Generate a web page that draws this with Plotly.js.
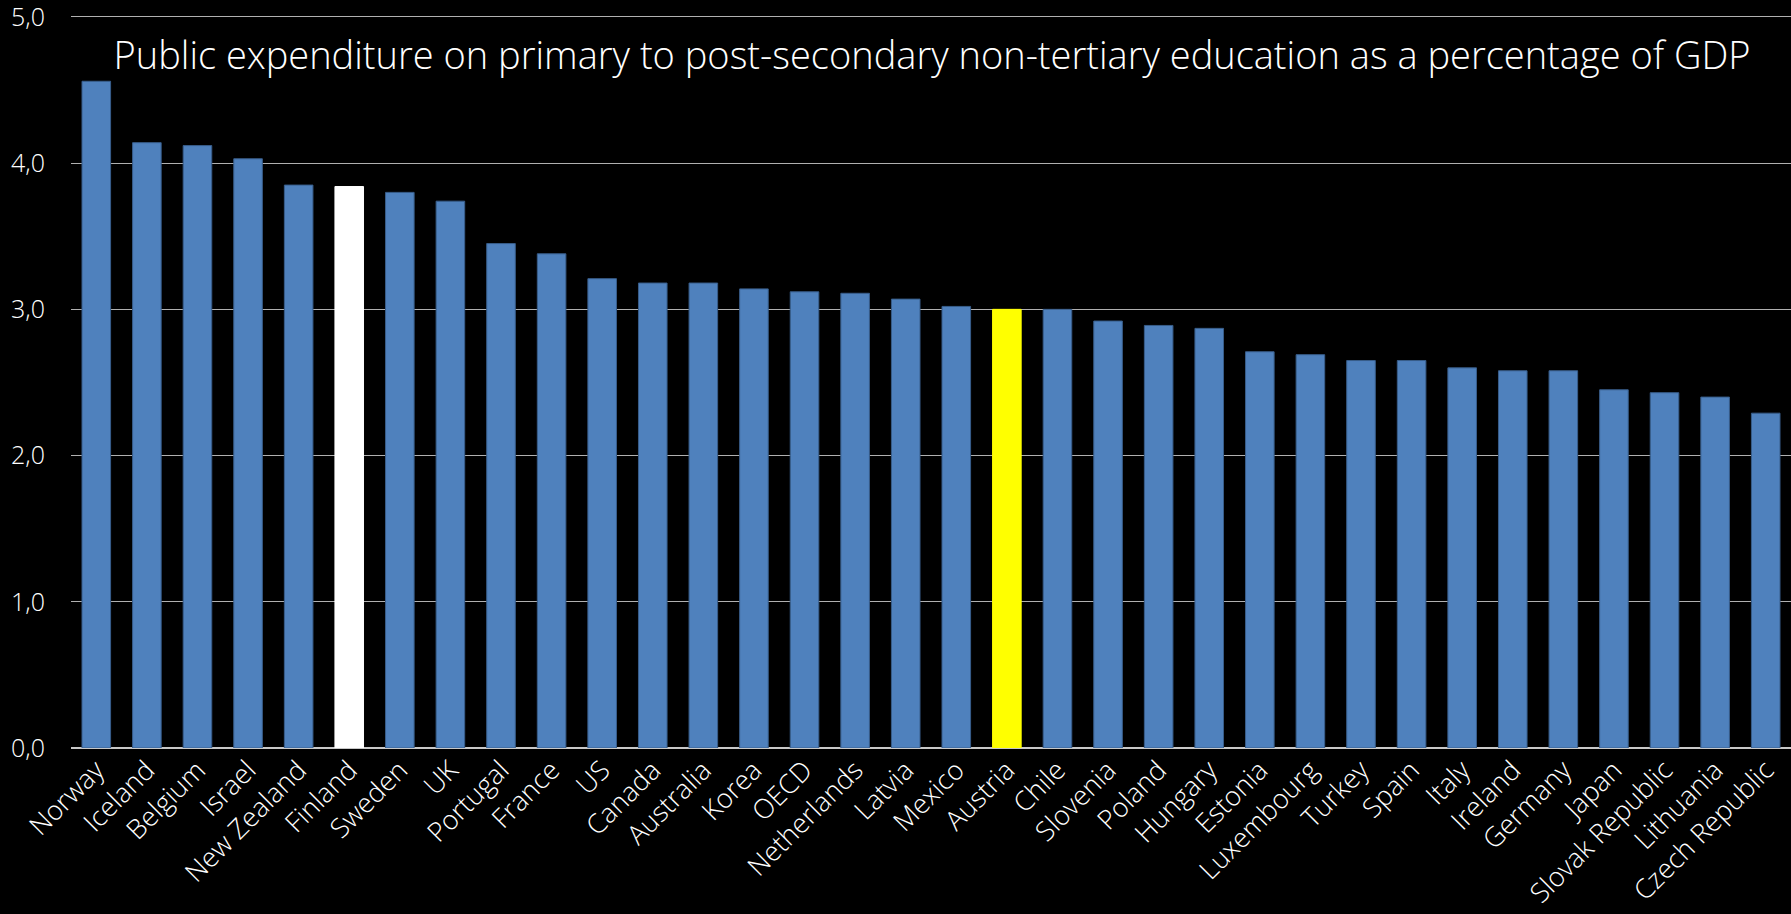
<!DOCTYPE html>
<html>
<head>
<meta charset="utf-8">
<script src="https://cdn.plot.ly/plotly-3.0.1.min.js"></script>
<style>html,body{margin:0;padding:0;background:#000;}#chart{width:1791px;height:914px;}</style>
</head>
<body>
<div id="chart"></div>
<script>
const countries = ["Norway","Iceland","Belgium","Israel","New Zealand","Finland","Sweden","UK","Portugal","France","US","Canada","Australia","Korea","OECD","Netherlands","Latvia","Mexico","Austria","Chile","Slovenia","Poland","Hungary","Estonia","Luxembourg","Turkey","Spain","Italy","Ireland","Germany","Japan","Slovak Republic","Lithuania","Czech Republic"];
const values = [4.56,4.14,4.12,4.03,3.85,3.84,3.80,3.74,3.45,3.38,3.21,3.18,3.18,3.14,3.12,3.11,3.07,3.02,3.00,3.00,2.92,2.89,2.87,2.71,2.69,2.65,2.65,2.60,2.58,2.58,2.45,2.43,2.40,2.29];
const highlightWhite = ["Finland"];
const highlightYellow = ["Austria"];
const yTickValues = [0, 1, 2, 3, 4, 5];
const titleText = "Public expenditure on primary to post-secondary non-tertiary education as a percentage of GDP";

const fillColors = countries.map(c => highlightWhite.includes(c) ? "#FFFFFF" : (highlightYellow.includes(c) ? "#FFFF00" : "#4F81BD"));
const lineColors = countries.map(c => highlightWhite.includes(c) ? "#FFFFFF" : (highlightYellow.includes(c) ? "#FFFF00" : "#385D8A"));

const fontFam = "Open Sans, sans-serif";
Plotly.newPlot("chart", [{
  type: "bar",
  x: countries,
  y: values,
  marker: {color: fillColors, line: {color: lineColors, width: 1}},
  hoverinfo: "x+y"
}], {
  width: 1791, height: 914,
  paper_bgcolor: "#000000", plot_bgcolor: "#000000",
  margin: {l: 71, r: 0, t: 14, b: 166, pad: 0},
  separators: ", ",
  bargap: 0.435,
  showlegend: false,
  title: {
    text: titleText,
    font: {family: fontFam, size: 38, color: "#FFFFFF", weight: 300},
    xref: "container", x: 0.5204, xanchor: "center",
    yref: "container", y: 0.939, yanchor: "middle"
  },
  xaxis: {
    type: "category",
    tickangle: -45,
    tickfont: {family: fontFam, size: 27, color: "#FFFFFF", weight: 300},
    showgrid: false, showline: false, ticks: "", zeroline: false,
    ticklabeloverflow: "allow"
  },
  yaxis: {
    range: [0, 5.02], tickmode: "array", tickvals: yTickValues, tickformat: ".1f",
    tickfont: {family: fontFam, size: 25, color: "#FFFFFF", weight: 300},
    gridcolor: "#B0B0B0", gridwidth: 1,
    zeroline: true, zerolinecolor: "#C8C8C8", zerolinewidth: 2,
    ticks: "", ticklabelstandoff: 25, showline: false,
    ticklabeloverflow: "allow"
  }
}, {displayModeBar: false, staticPlot: true});
</script>
</body>
</html>
